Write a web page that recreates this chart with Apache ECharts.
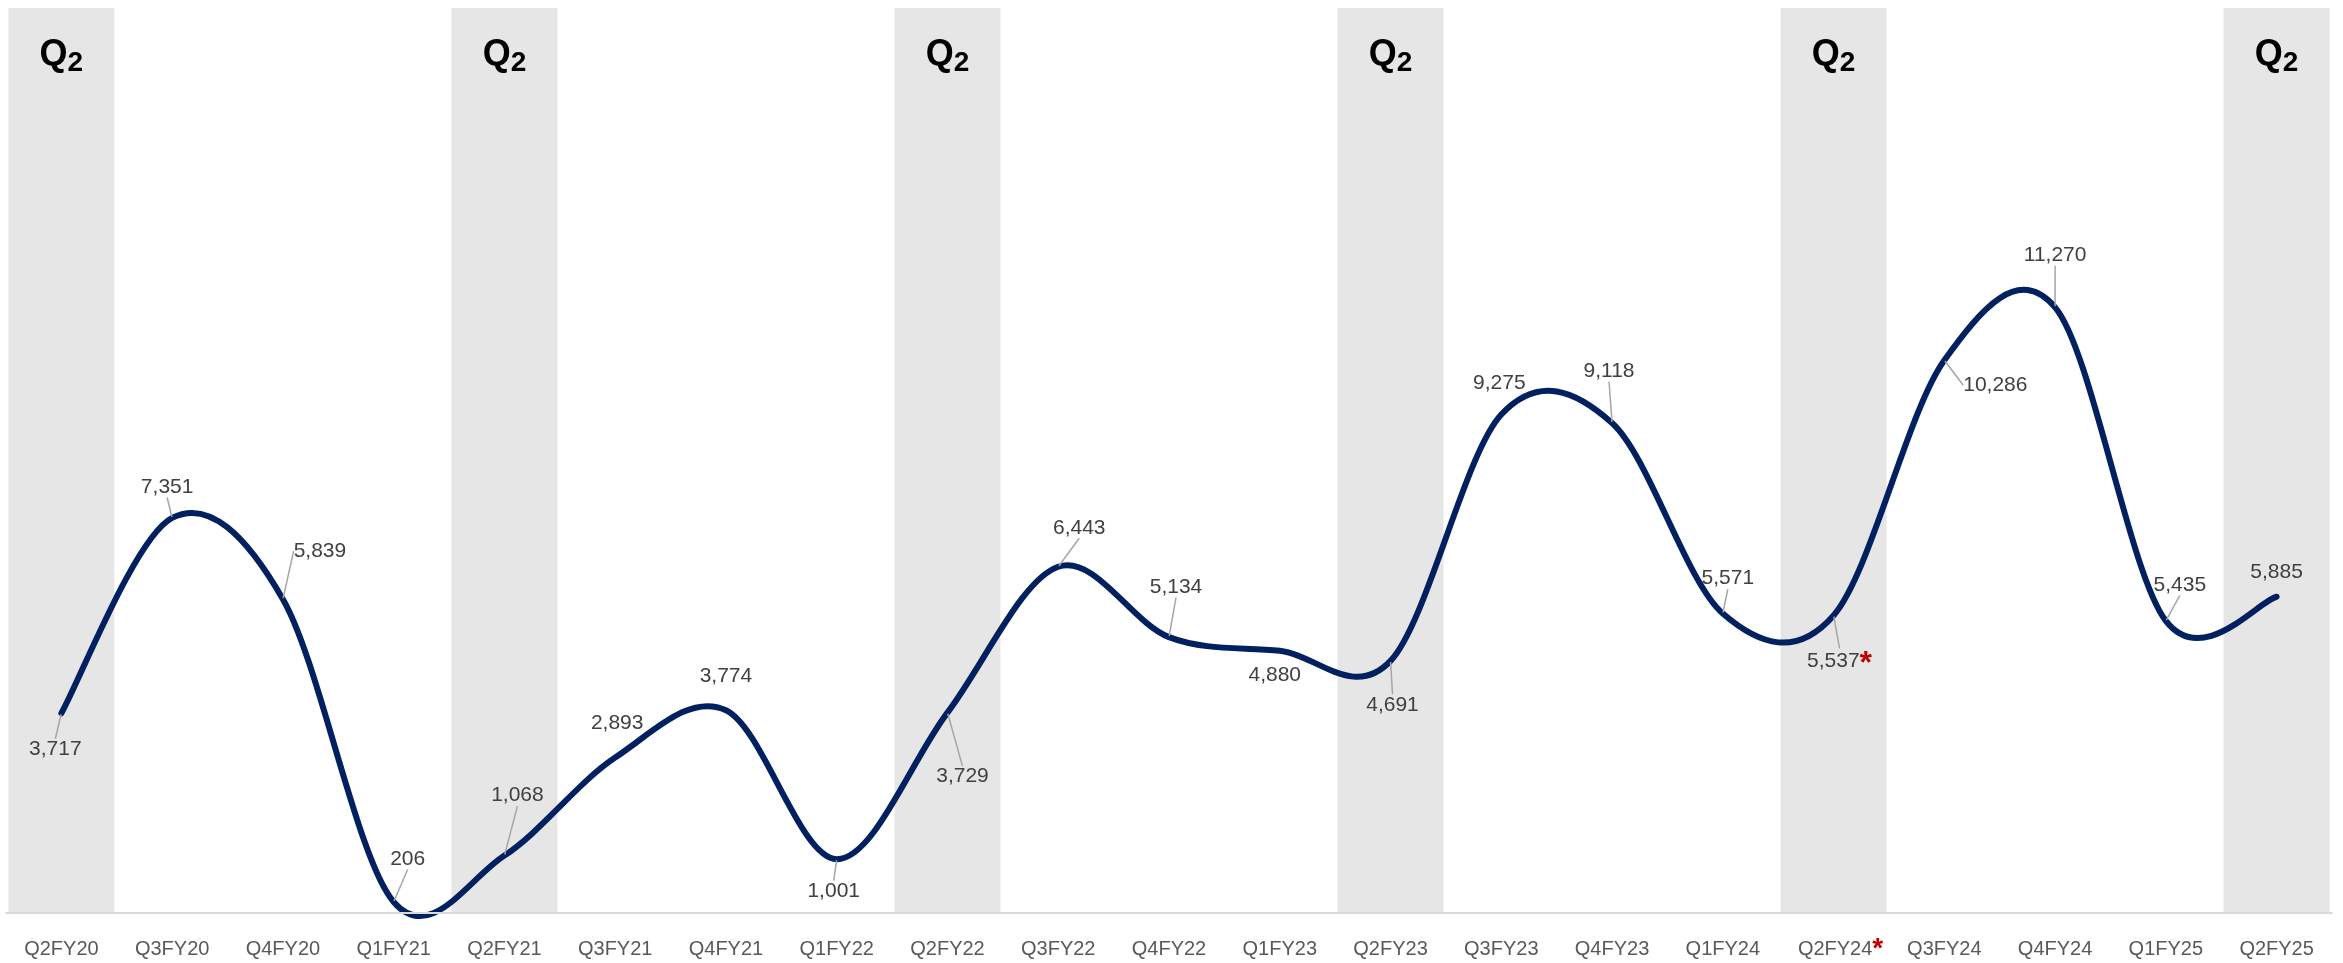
<!DOCTYPE html>
<html><head><meta charset="utf-8">
<script src="https://cdn.jsdelivr.net/npm/echarts@6/dist/echarts.min.js"></script>
<style>html,body{margin:0;padding:0;background:#fff}#c{width:2343px;height:963px}</style>
</head><body><div id="c"></div>
<script>
// ---- data ----
const categories = ['Q2FY20','Q3FY20','Q4FY20','Q1FY21','Q2FY21','Q3FY21','Q4FY21','Q1FY22','Q2FY22','Q3FY22','Q4FY22','Q1FY23','Q2FY23','Q3FY23','Q4FY23','Q1FY24','Q2FY24','Q3FY24','Q4FY24','Q1FY25','Q2FY25'];
const values = [3717,7351,5839,206,1068,2893,3774,1001,3729,6443,5134,4880,4691,9275,9118,5571,5537,10286,11270,5435,5885];
const flagged = ['Q2FY24'];          // categories marked with a red asterisk
const bandPrefix = 'Q2';             // shaded quarters
const bandText = ['Q', '2'];         // header text: Q with subscript 2
const Y_MAX = 16840;

// ---- layout config (label displacement in px, leader-line visibility) ----
const labelShift = [[-6,36],[-5,-31],[37,-48],[14,-43],[13,-60],[2,-34],[0,-34],[-3,32],[15,64],[21,-39],[7,-50],[-5,24],[2,44],[-2,-31],[-3,-52],[5,-35],[6,46],[51,25],[0,-52],[14,-36],[0,-25]];
const noLeader = [5,6,11,13,20];

const FONT = "'Liberation Sans', Arial, sans-serif";
const LINE_COLOR = '#002060';
const fmt = v => v.toLocaleString('en-US');

// Smoothed curve (Catmull-Rom style, like spreadsheet smoothed lines) through the
// pixel positions that the chart's own scales give for every data point.
function renderCurve(params, api) {
  if (params.dataIndex !== 0) return null;
  const pts = values.map((v, i) => api.coord([i, v]));
  const n = pts.length;
  let d = 'M' + pts[0][0] + ' ' + pts[0][1];
  for (let i = 0; i < n - 1; i++) {
    const p0 = pts[Math.max(i - 1, 0)], p1 = pts[i], p2 = pts[i + 1], p3 = pts[Math.min(i + 2, n - 1)];
    const c1x = p1[0] + (p2[0] - p0[0]) / 6, c1y = p1[1] + (p2[1] - p0[1]) / 6;
    const c2x = p2[0] - (p3[0] - p1[0]) / 6, c2y = p2[1] - (p3[1] - p1[1]) / 6;
    d += ' C' + c1x + ' ' + c1y + ' ' + c2x + ' ' + c2y + ' ' + p2[0] + ' ' + p2[1];
  }
  return {
    type: 'path', shape: {pathData: d},
    style: {fill: 'none', stroke: LINE_COLOR, lineWidth: 6, lineCap: 'round', lineJoin: 'round'}
  };
}

const chart = echarts.init(document.getElementById('c'), null, {renderer:'canvas'});
chart.setOption({
  animation: false,
  backgroundColor: '#ffffff',
  grid: {left: 6, right: 11, top: 8, bottom: 45, containLabel: false},
  xAxis: {
    type: 'category', data: categories, boundaryGap: true,
    axisLine: {lineStyle: {color: '#d9d9d9', width: 2}},
    axisTick: {show: false},
    axisLabel: {
      interval: 0, margin: 22, color: '#595959', fontSize: 20, fontFamily: FONT,
      formatter: c => flagged.includes(c) ? '{p|}{n|' + c + '}{r|*}' : '{n|' + c + '}',
      rich: {
        p: {width: 14},
        n: {color: '#595959', fontSize: 20, fontFamily: FONT, lineHeight: 28},
        r: {color: '#c00000', fontSize: 28, fontWeight: 'bold', fontFamily: FONT, lineHeight: 14, verticalAlign: 'top'}
      }
    },
    splitLine: {show: false}, z: 5
  },
  yAxis: {type: 'value', min: 0, max: Y_MAX, show: false, splitLine: {show: false}},
  series: [
    {
      type: 'bar', silent: true, z: 1, barWidth: 106,
      data: categories.map(c => c.startsWith(bandPrefix) ? Y_MAX : '-'),
      itemStyle: {color: '#e6e6e6'},
      label: {
        show: true, position: 'insideTop', distance: 25,
        formatter: '{q|' + bandText[0] + '}{s|' + bandText[1] + '}',
        rich: {
          q: {fontSize: 36, fontWeight: 'bold', color: '#000', fontFamily: FONT, lineHeight: 44},
          s: {fontSize: 28, fontWeight: 'bold', color: '#000', fontFamily: FONT, lineHeight: 18, verticalAlign: 'bottom'}
        }
      }
    },
    {
      type: 'custom', z: 3, silent: true, clip: false,
      data: values.map((v, i) => [i, v]),
      encode: {x: 0, y: 1},
      renderItem: renderCurve
    },
    {
      // carries the data labels and their leader lines; the curve itself is drawn by the custom series
      type: 'line', z: 5, smooth: false,
      data: values.map((v, i) => noLeader.includes(i) ? {value: v, labelLine: {show: false}} : v),
      symbol: 'circle', symbolSize: 2, showSymbol: true,
      itemStyle: {color: LINE_COLOR},
      lineStyle: {color: LINE_COLOR, width: 0, opacity: 0},
      label: {
        show: true, position: 'inside', padding: [3, 5],
        formatter: p => {
          const t = '{v|' + fmt(p.value) + '}';
          return flagged.includes(categories[p.dataIndex]) ? t + '{r|*}' : t;
        },
        rich: {
          v: {color: '#404040', fontSize: 21, fontFamily: FONT, lineHeight: 26},
          r: {color: '#c00000', fontSize: 32, fontWeight: 'bold', fontFamily: FONT, lineHeight: 14, verticalAlign: 'top'}
        }
      },
      labelLine: {show: true, lineStyle: {color: '#a6a6a6', width: 1.5}},
      labelLayout: p => ({dx: labelShift[p.dataIndex][0], dy: labelShift[p.dataIndex][1]})
    }
  ]
});
</script></body></html>
